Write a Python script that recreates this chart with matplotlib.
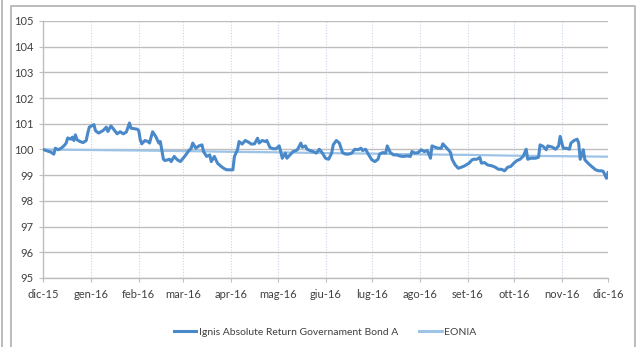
import datetime as dt

import matplotlib
matplotlib.use("Agg")
import matplotlib.pyplot as plt
from matplotlib.lines import Line2D

# --- data ---
START = dt.date(2015, 12, 1)

# days since START and fund value (base 100)
FUND_DAYS = [
    0, 2, 5, 7, 8, 10, 12, 14, 15, 16, 18, 19, 20, 21, 22, 24, 26, 28, 29, 30,
    33, 34, 36, 39, 41, 42, 44, 46, 48, 50, 52, 54, 56, 57, 61, 62, 63, 64, 66, 68,
    69, 71, 73, 75, 76, 78, 79, 82, 83, 85, 87, 89, 92, 94, 96, 97, 99, 101, 103, 104,
    106, 108, 109, 111, 113, 115, 117, 119, 122, 123, 124, 126, 127, 129, 131, 133, 135, 137, 139, 140,
    142, 144, 145, 147, 149, 151, 153, 154, 155, 157, 158, 160, 162, 164, 165, 167, 168, 170, 171, 173,
    175, 177, 179, 181, 183, 185, 187, 188, 190, 192, 194, 196, 198, 200, 202, 204, 206, 207, 209, 211,
    213, 215, 217, 218, 220, 222, 223, 225, 227, 229, 231, 233, 236, 238, 239, 241, 243, 245, 247, 249,
    251, 252, 254, 256, 258, 259, 261, 263, 264, 265, 267, 269, 271, 273, 276, 278, 279, 281, 283, 284,
    286, 288, 291, 293, 295, 297, 299, 301, 303, 305, 307, 309, 311, 313, 314, 316, 319, 321, 322, 324,
    326, 327, 330, 332, 334, 335, 337, 339, 341, 342, 344, 346, 347, 348, 350, 351, 353, 355, 358, 360,
    362, 363, 365, 366,
]
FUND = [
    100.00, 99.96, 99.90, 99.82, 100.05, 99.99, 100.06, 100.17, 100.25, 100.45,
    100.40, 100.48, 100.35, 100.57, 100.38, 100.31, 100.27, 100.35, 100.64, 100.87,
    100.97, 100.73, 100.64, 100.74, 100.87, 100.70, 100.92, 100.77, 100.61, 100.69,
    100.61, 100.68, 101.03, 100.83, 100.79, 100.74, 100.38, 100.22, 100.35, 100.31,
    100.25, 100.69, 100.51, 100.25, 100.31, 99.62, 99.57, 99.62, 99.53, 99.73,
    99.60, 99.53, 99.75, 99.92, 100.05, 100.25, 100.05, 100.14, 100.18, 99.92,
    99.73, 99.79, 99.53, 99.73, 99.47, 99.36, 99.27, 99.21, 99.21, 99.21,
    99.73, 99.99, 100.31, 100.21, 100.35, 100.29, 100.21, 100.22, 100.44, 100.25,
    100.35, 100.31, 100.35, 100.08, 100.03, 100.03, 100.14, 99.92, 99.66, 99.86,
    99.66, 99.79, 99.92, 99.96, 100.01, 100.25, 100.09, 100.14, 100.01, 99.96,
    99.92, 99.86, 100.01, 99.86, 99.66, 99.62, 99.86, 100.18, 100.35, 100.25,
    99.88, 99.82, 99.82, 99.86, 100.01, 99.99, 100.05, 99.96, 100.01, 99.79,
    99.60, 99.53, 99.62, 99.82, 99.88, 99.86, 100.14, 99.88, 99.79, 99.79,
    99.75, 99.73, 99.75, 99.73, 99.92, 99.86, 99.88, 99.99, 99.92, 99.96,
    99.66, 100.14, 100.09, 100.05, 100.05, 100.22, 100.09, 99.96, 99.88, 99.62,
    99.40, 99.27, 99.31, 99.36, 99.47, 99.60, 99.62, 99.62, 99.69, 99.47,
    99.49, 99.40, 99.36, 99.31, 99.23, 99.23, 99.17, 99.31, 99.34, 99.47,
    99.57, 99.62, 99.73, 100.01, 99.62, 99.66, 99.66, 99.70, 100.18, 100.12,
    99.99, 100.14, 100.09, 100.01, 100.14, 100.51, 100.05, 100.05, 100.01, 100.25,
    100.35, 100.40, 100.25, 99.62, 99.99, 99.60, 99.47, 99.36, 99.21, 99.17,
    99.17, 99.14, 98.88, 99.10,
]

# EONIA index, one value per month start
EONIA_DAYS = [0, 31, 62, 91, 122, 152, 183, 213, 244, 275, 305, 336, 366]
EONIA = [100.00, 99.98, 99.96, 99.94, 99.91, 99.89, 99.86, 99.84, 99.81, 99.79, 99.76, 99.74, 99.72]

MONTH_LABELS = ["dic-15", "gen-16", "feb-16", "mar-16", "apr-16", "mag-16", "giu-16",
                "lug-16", "ago-16", "set-16", "ott-16", "nov-16", "dic-16"]

FUND_NAME = "Ignis Absolute Return Governament Bond A"
EONIA_NAME = "EONIA"


def to_dates(days):
    return [START + dt.timedelta(days=d) for d in days]


plt.rcParams['font.family'] = ['Lato', 'DejaVu Sans']
text_col = '#404040'
fund_col = '#4A89C9'
eonia_col = '#9DC3E6'

fig = plt.figure(figsize=(6.38, 3.47), dpi=100)
ax = fig.add_axes([43 / 638, 1 - 278 / 347, 565 / 638, 257 / 347])

ax.plot(to_dates(EONIA_DAYS), EONIA, color=eonia_col, lw=1.6, label=EONIA_NAME, zorder=3)
ax.plot(to_dates(FUND_DAYS), FUND, color=fund_col, lw=2.2, label=FUND_NAME, zorder=4)

month_ticks = [dt.date(2015 + (11 + i) // 12, (11 + i) % 12 + 1, 1) for i in range(13)]
ax.set_xlim(month_ticks[0], month_ticks[-1])
ax.set_ylim(95, 105)
ax.set_xticks(month_ticks)
ax.set_xticklabels(MONTH_LABELS)
ax.set_yticks(range(95, 106))

ax.grid(axis='y', color='#BEBEBE', lw=1.0)
ax.grid(axis='x', color='#C8D5E7', lw=0.8, linestyle=(0, (1, 1.5)))
ax.set_axisbelow(True)

for side in ('top', 'right'):
    ax.spines[side].set_visible(False)
for side in ('left', 'bottom'):
    ax.spines[side].set_color('#BEBEBE')
    ax.spines[side].set_linewidth(1.0)

ax.tick_params(axis='both', colors='#BEBEBE', labelcolor=text_col, labelsize=8, length=3)
ax.tick_params(axis='x', pad=5)
ax.tick_params(axis='y', pad=4)

handles = [Line2D([], [], color=fund_col, lw=2.2), Line2D([], [], color=eonia_col, lw=2.2)]
fig.legend(handles, [FUND_NAME, EONIA_NAME], loc='center', bbox_to_anchor=(0.509, 0.043),
           ncol=2, frameon=False, fontsize=7.5, labelcolor=text_col,
           handlelength=2.2, handletextpad=0.2, columnspacing=2.0)

# outer frames
frame_col = '#B0B0B0'
fig.add_artist(Line2D([11 / 638, 11 / 638, 635 / 638, 635 / 638],
                      [0, 1 - 6 / 347, 1 - 6 / 347, 0],
                      transform=fig.transFigure, color=frame_col, lw=1.2))
fig.add_artist(Line2D([1.5 / 638, 1.5 / 638], [0, 1], transform=fig.transFigure,
                      color=frame_col, lw=1.2))

fig.savefig('out.png', dpi=100)
